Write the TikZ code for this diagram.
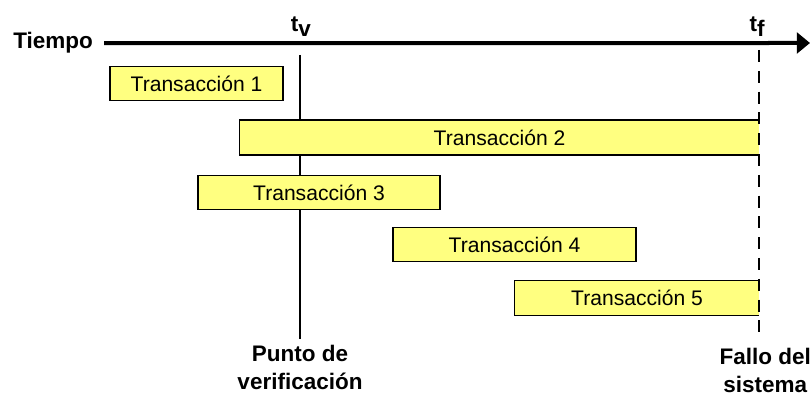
\documentclass[tikz,border=0pt]{standalone}
\usepackage{fontspec}
\setmainfont{Liberation Sans}
\usetikzlibrary{arrows.meta}
\definecolor{transfill}{RGB}{255,255,128}

\begin{document}
\begin{tikzpicture}[
		trans/.style={fill=transfill, minimum height=0.86cm, inner sep=0pt, font=\fontsize{15}{18}\selectfont},
		edge/.style={line width=0.9pt},
		bold/.style={font=\bfseries\fontsize{16}{20}\selectfont, align=center, inner sep=0pt}
	]
		\useasboundingbox (0,0) rectangle (20.3,10);

		\node[bold, anchor=base east] (tiempo) at (2.33, 8.775) {Tiempo};
		\coordinate (axisend) at (20.25, 8.925);
		\draw [line width=0.1cm, -{Triangle[length=0.33cm, width=0.52cm]}] ([xshift=0.27cm]tiempo.east) -- (axisend);
		\node[bold, anchor=base] (tv) at (7.52, 9.2) {t\raisebox{-3.5pt}{v}};
		\node[bold, anchor=base] (tf) at (18.93, 9.2) {t\raisebox{-3.5pt}{f}};

		\node[bold, anchor=north] (punto) at (7.5, 1.375) {Punto de\\verificación};
		\node[bold, anchor=north east] (fallo) at (20.28, 1.3) {Fallo del\\sistema};

		\coordinate (cptop) at (7.5, 8.63);
		\draw [line width=1.2pt] (cptop) -- ([yshift=0.15cm]punto.north);

		\foreach \n/\l/\r/\y in {1/2.75/7.075/7.91, 3/4.95/11.0/5.19, 4/9.825/15.9/3.89}
			\node[trans, draw, edge, minimum width={(\r-\l)*1cm}] (t\n) at ({(\l+\r)/2}, \y) {Transacción \n};

		\foreach \n/\l/\y in {2/6.0/6.56, 5/12.875/2.55} {
			\node[trans, minimum width={(18.975-\l)*1cm}] (t\n) at ({(\l+18.975)/2}, \y) {Transacción \n};
			\draw [edge] (t\n.north east) -- (t\n.north west) -- (t\n.south west) -- (t\n.south east);
		}

		\coordinate (fallotop) at (18.975, 8.75);
		\draw [line width=1.2pt, dash pattern=on 0.3cm off 0.22cm] (fallotop) -- ([yshift=0.2cm]fallotop |- fallo.north);
	\end{tikzpicture}
\end{document}
